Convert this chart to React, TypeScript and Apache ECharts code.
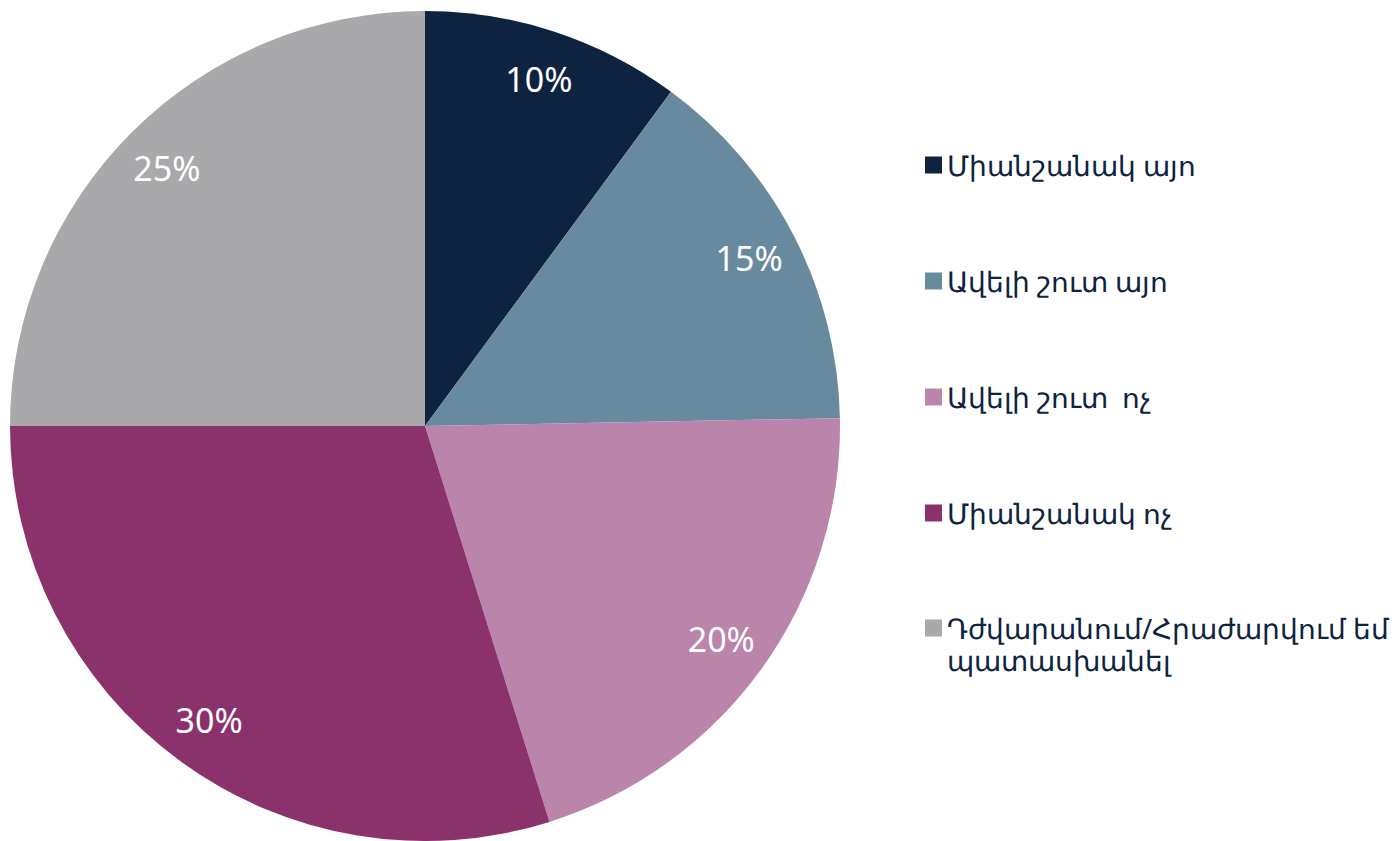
import React, { useEffect, useRef } from "react";
import * as echarts from "echarts";

const categories = [
  "Միանշանակ այո",
  "Ավելի շուտ այո",
  "Ավելի շուտ  ոչ",
  "Միանշանակ ոչ",
  "Դժվարանում/Հրաժարվում եմ պատասխանել",
];
// shares as read from the slice boundaries; labels show them rounded
const values = [10.1, 14.6, 20.45, 29.85, 25.0];
const colors = ["#0D2340", "#688A9E", "#BB84AA", "#8B316C", "#A9A9AB"];

export default function App() {
  const ref = useRef<HTMLDivElement>(null);
  useEffect(() => {
    document.body.style.margin = "0";
    const chart = echarts.init(ref.current!, null, { renderer: "svg" });
    const data = categories.map((name, i) => ({
      name,
      value: values[i],
      itemStyle: { color: colors[i] },
    }));
    const legendText = {
      fontFamily: "Noto Sans",
      fontSize: 27.5,
      lineHeight: 32,
      color: "#0D2340",
    };
    chart.setOption({
      animation: false,
      legend: [
        {
          data: categories.slice(0, 4),
          orient: "vertical",
          left: 920,
          top: 144,
          itemWidth: 17,
          itemHeight: 17,
          itemGap: 84,
          icon: "rect",
          selectedMode: false,
          textStyle: legendText,
        },
        {
          data: categories.slice(4),
          orient: "vertical",
          left: 920,
          top: 575,
          itemWidth: 17,
          itemHeight: 17,
          icon: "rect",
          selectedMode: false,
          formatter: (name: string) => {
            const idx = name.indexOf(" պատասխանել");
            return " \n" + name.slice(0, idx) + "\n" + name.slice(idx + 1);
          },
          textStyle: legendText,
        },
      ],
      series: [
        {
          type: "pie",
          center: [425, 426],
          radius: [0, 415],
          startAngle: 90,
          label: { show: false },
          labelLine: { show: false },
          silent: true,
          data,
        },
        {
          type: "pie",
          center: [425, 426],
          radius: [309, 415],
          startAngle: 90,
          silent: true,
          itemStyle: { color: "rgba(0,0,0,0)" },
          label: {
            show: true,
            position: "inside",
            formatter: (p: any) => Math.round(p.value) + "%",
            color: "#FFFFFF",
            fontFamily: "Noto Sans",
            fontSize: 34,
          },
          labelLine: { show: false },
          data: categories.map((name, i) => ({ name, value: values[i] })),
        },
      ],
    });
    return () => chart.dispose();
  }, []);
  return <div ref={ref} style={{ width: 1400, height: 841 }} />;
}
